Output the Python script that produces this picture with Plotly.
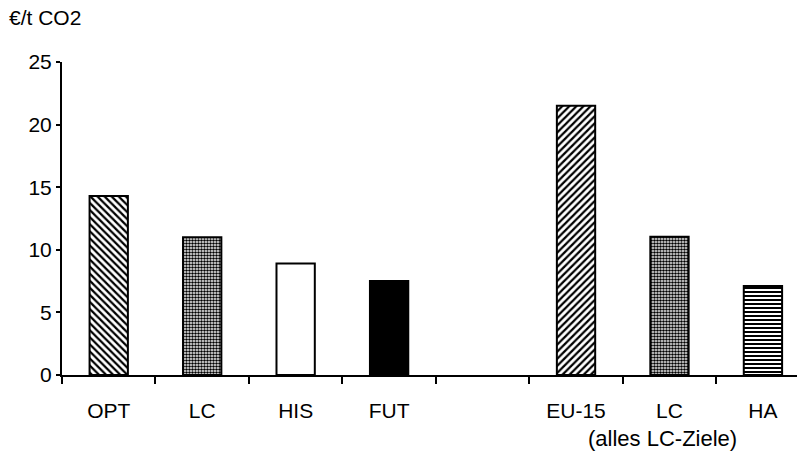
import plotly.graph_objects as go

categories = ["OPT", "LC", "HIS", "FUT", " ", "EU-15", "LC ", "HA"]
tick_labels = ["OPT", "LC", "HIS", "FUT", "", "EU-15", "LC", "HA"]
values = [14.3, 11.0, 8.9, 7.5, None, 21.5, 11.05, 7.1]
y_title = "€/t CO2"
group_note = "(alles LC-Ziele)"

shapes = ["\\", ".", "", "", "", "/", ".", "-"]
fills = ["white", "white", "white", "black", "white", "white", "white", "white"]
pat_sizes = [5, 3, 5, 5, 5, 5, 3, 4]
pat_solid = [0.45, 0.55, 0.3, 0.3, 0.3, 0.45, 0.6, 0.5]

FONT = "Liberation Sans, Arial, sans-serif"

fig = go.Figure()
for cat, val, shp, fc, ps, sol in zip(categories, values, shapes, fills, pat_sizes, pat_solid):
    if val is None:
        continue
    marker = dict(color=fc, line=dict(color="black", width=2))
    if shp:
        marker["pattern"] = dict(shape=shp, fgcolor="black", bgcolor=fc,
                                 size=ps, solidity=sol, fillmode="replace")
    fig.add_trace(go.Bar(x=[cat], y=[val], width=0.41, marker=marker, showlegend=False))

# page body has an 8px margin: compensate in figure size/margins
fig.update_layout(
    width=797,
    height=453,
    margin=dict(l=54, r=0, t=54, b=86),
    plot_bgcolor="white",
    paper_bgcolor="white",
    font=dict(family=FONT, size=21, color="black"),
    barmode="overlay",
)

fig.update_xaxes(
    type="category",
    categoryorder="array",
    categoryarray=categories,
    tickvals=categories,
    ticktext=tick_labels,
    range=[-0.5, 7.45],
    showline=True,
    linecolor="black",
    linewidth=2,
    ticks="outside",
    tickson="boundaries",
    ticklen=7,
    tickcolor="black",
    tickwidth=1.5,
    showgrid=False,
    ticklabelstandoff=16,
    tickfont=dict(family=FONT, size=21, color="black"),
)

fig.update_yaxes(
    range=[0, 25],
    tickvals=[0, 5, 10, 15, 20, 25],
    showline=True,
    linecolor="black",
    linewidth=2,
    ticks="outside",
    ticklen=4,
    tickcolor="black",
    tickwidth=1.5,
    showgrid=False,
    zeroline=False,
    tickfont=dict(family=FONT, size=21, color="black"),
)

fig.add_annotation(
    text=y_title, xref="paper", yref="paper",
    x=-55 / 743, y=(367 - 10) / 313,
    xanchor="left", yanchor="middle", showarrow=False,
    font=dict(family=FONT, size=21, color="black"),
)

fig.add_annotation(
    text=group_note, xref="x", yref="paper",
    x=5.92, y=(367 - 430) / 313,
    xanchor="center", yanchor="middle", showarrow=False,
    font=dict(family=FONT, size=22, color="black"),
)

fig.write_html("out.html")
